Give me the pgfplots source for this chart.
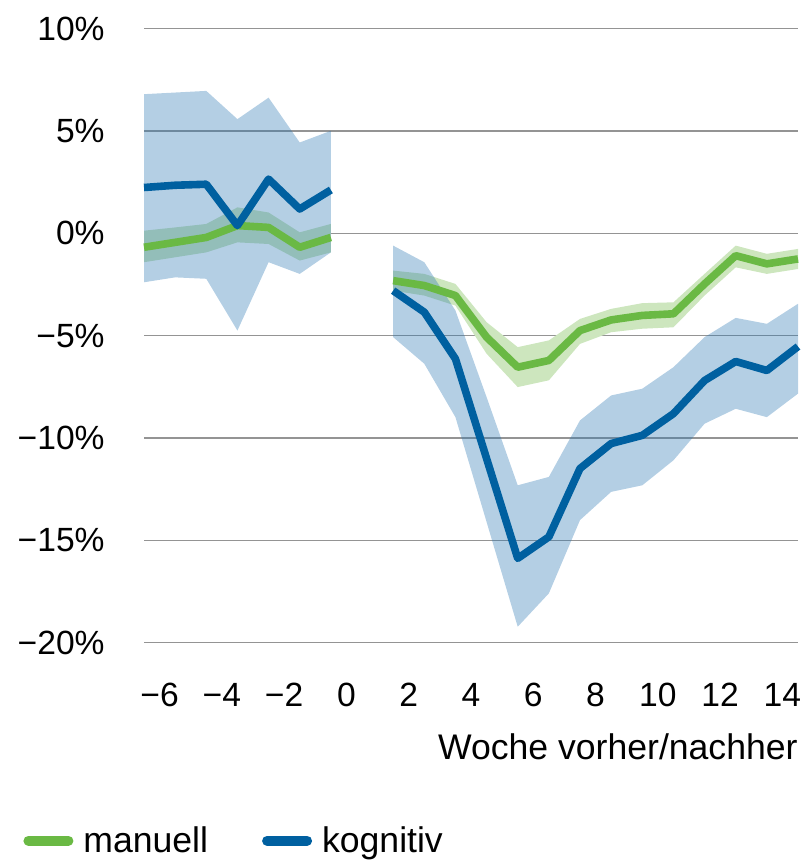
\documentclass[border=0pt]{standalone}
\usepackage{fontspec}
\setmainfont{Liberation Sans}
\usepackage{pgfplots}
\pgfplotsset{compat=1.18}
\usepgfplotslibrary{fillbetween}
\usepackage{pgfplotstable}
\definecolor{cgreen}{RGB}{106,185,68}
\definecolor{cgreenband}{RGB}{205,230,190}
\definecolor{cblue}{RGB}{0,96,160}
\definecolor{cblueband}{RGB}{40,118,178}
\newcommand\fs{\fontsize{16.8}{20}\selectfont}
\newcommand\fl{\fontsize{17.8}{21}\selectfont}

\pgfplotstableread{
x m lo hi
-6.5 2.24 -2.39 6.80
-5.5 2.35 -2.15 6.88
-4.5 2.40 -2.22 6.96
-3.5 0.38 -4.75 5.58
-2.5 2.65 -1.41 6.63
-1.5 1.19 -1.98 4.44
-0.5 2.12 -0.93 5.01
}\kL
\pgfplotstableread{
x m lo hi
1.5 -2.80 -5.07 -0.60
2.5 -3.85 -6.37 -1.41
3.5 -6.13 -8.98 -3.77
4.5 -11.00 -14.10 -8.00
5.5 -15.88 -19.22 -12.31
6.5 -14.83 -17.59 -11.90
7.5 -11.49 -14.01 -9.14
8.5 -10.27 -12.63 -7.92
9.5 -9.87 -12.31 -7.59
10.5 -8.81 -11.09 -6.54
11.5 -7.19 -9.30 -5.07
12.5 -6.26 -8.57 -4.13
13.5 -6.70 -8.98 -4.42
14.5 -5.53 -7.83 -3.44
}\kR
\pgfplotstableread{
x m lo hi
-6.5 -0.68 -1.41 0.13
-5.5 -0.44 -1.17 0.29
-4.5 -0.20 -0.93 0.46
-3.5 0.38 -0.44 1.27
-2.5 0.29 -0.52 1.02
-1.5 -0.68 -1.33 0.05
-0.5 -0.20 -0.93 0.46
}\mL
\pgfplotstableread{
x m lo hi
1.5 -2.31 -2.80 -1.82
2.5 -2.55 -3.04 -1.98
3.5 -3.04 -3.53 -2.47
4.5 -5.07 -5.88 -4.34
5.5 -6.54 -7.51 -5.56
6.5 -6.21 -7.18 -5.23
7.5 -4.75 -5.40 -4.18
8.5 -4.23 -4.83 -3.69
9.5 -4.01 -4.66 -3.41
10.5 -3.93 -4.59 -3.37
11.5 -2.47 -3.04 -1.98
12.5 -1.09 -1.66 -0.60
13.5 -1.49 -1.98 -1.00
14.5 -1.25 -1.74 -0.76
}\mR

\begin{document}
\begin{tikzpicture}
\begin{axis}[
  scale only axis,
  width=327pt, height=307pt,
  xmin=-6.5, xmax=14.5,
  ymin=-20, ymax=10,
  axis line style={draw=none},
  major tick length=0pt,
  xtick={-6,-4,...,14},
  xticklabels={−6,−4,−2,0,2,4,6,8,10,12,14},
  ytick={-20,-15,...,10},
  yticklabels={−20\%,−15\%,−10\%,−5\%,0\%,5\%,10\%},
  ymajorgrids,
  grid style={black!42, line width=0.7pt},
  xticklabel style={font=\fs, inner sep=0pt, anchor=north, yshift=-20pt},
  yticklabel style={font=\fs, inner sep=0pt, anchor=east, xshift=-19.5pt},
  xlabel={Woche vorher/nachher},
  xlabel style={font=\fl, inner sep=0pt, at={(rel axis cs:1,0)}, anchor=north east, yshift=-45.5pt},
  legend style={at={(rel axis cs:-0.185,-0.3225)}, anchor=west, draw=none, fill=none, inner sep=0pt, font=\fl,
    legend columns=2,
    /tikz/every odd column/.append style={column sep=3pt},
    /tikz/every even column/.append style={column sep=25pt}},
  legend cell align=left,
  clip=false,
]
\coordinate (p0) at (rel axis cs:0,0);
% manuell band + line
\addplot[draw=none, name path=mLlo, forget plot] table[x=x,y=lo]{\mL};
\addplot[draw=none, name path=mLhi, forget plot] table[x=x,y=hi]{\mL};
\addplot[cgreenband, forget plot] fill between[of=mLlo and mLhi];
\addplot[draw=none, name path=mRlo, forget plot] table[x=x,y=lo]{\mR};
\addplot[draw=none, name path=mRhi, forget plot] table[x=x,y=hi]{\mR};
\addplot[cgreenband, forget plot] fill between[of=mRlo and mRhi];
\addplot[cgreen, line width=3.8pt, line join=round, forget plot] table[x=x,y=m]{\mL};
\addplot[cgreen, line width=3.8pt, line join=round, forget plot] table[x=x,y=m]{\mR};
% kognitiv band + line
\addplot[draw=none, name path=kLlo, forget plot] table[x=x,y=lo]{\kL};
\addplot[draw=none, name path=kLhi, forget plot] table[x=x,y=hi]{\kL};
\addplot[cblueband, fill opacity=0.35, forget plot] fill between[of=kLlo and kLhi];
\addplot[draw=none, name path=kRlo, forget plot] table[x=x,y=lo]{\kR};
\addplot[draw=none, name path=kRhi, forget plot] table[x=x,y=hi]{\kR};
\addplot[cblueband, fill opacity=0.35, forget plot] fill between[of=kRlo and kRhi];
\addplot[cblue, line width=3.8pt, line join=round, forget plot] table[x=x,y=m]{\kL};
\addplot[cblue, line width=3.8pt, line join=round, forget plot] table[x=x,y=m]{\kR};
% legend
\addlegendimage{legend image code/.code={\draw[cgreen, line width=5pt, line cap=round] (2.5pt,0pt) -- (22.5pt,0pt);}}
\addlegendentry{manuell}
\addlegendimage{legend image code/.code={\draw[cblue, line width=5pt, line cap=round] (2.5pt,0pt) -- (22.5pt,0pt);}}
\addlegendentry{kognitiv}
\end{axis}
\pgfresetboundingbox
\path (p0) ++(-72pt,-108.65pt) rectangle ++(401pt,430pt);
\end{tikzpicture}
\end{document}
